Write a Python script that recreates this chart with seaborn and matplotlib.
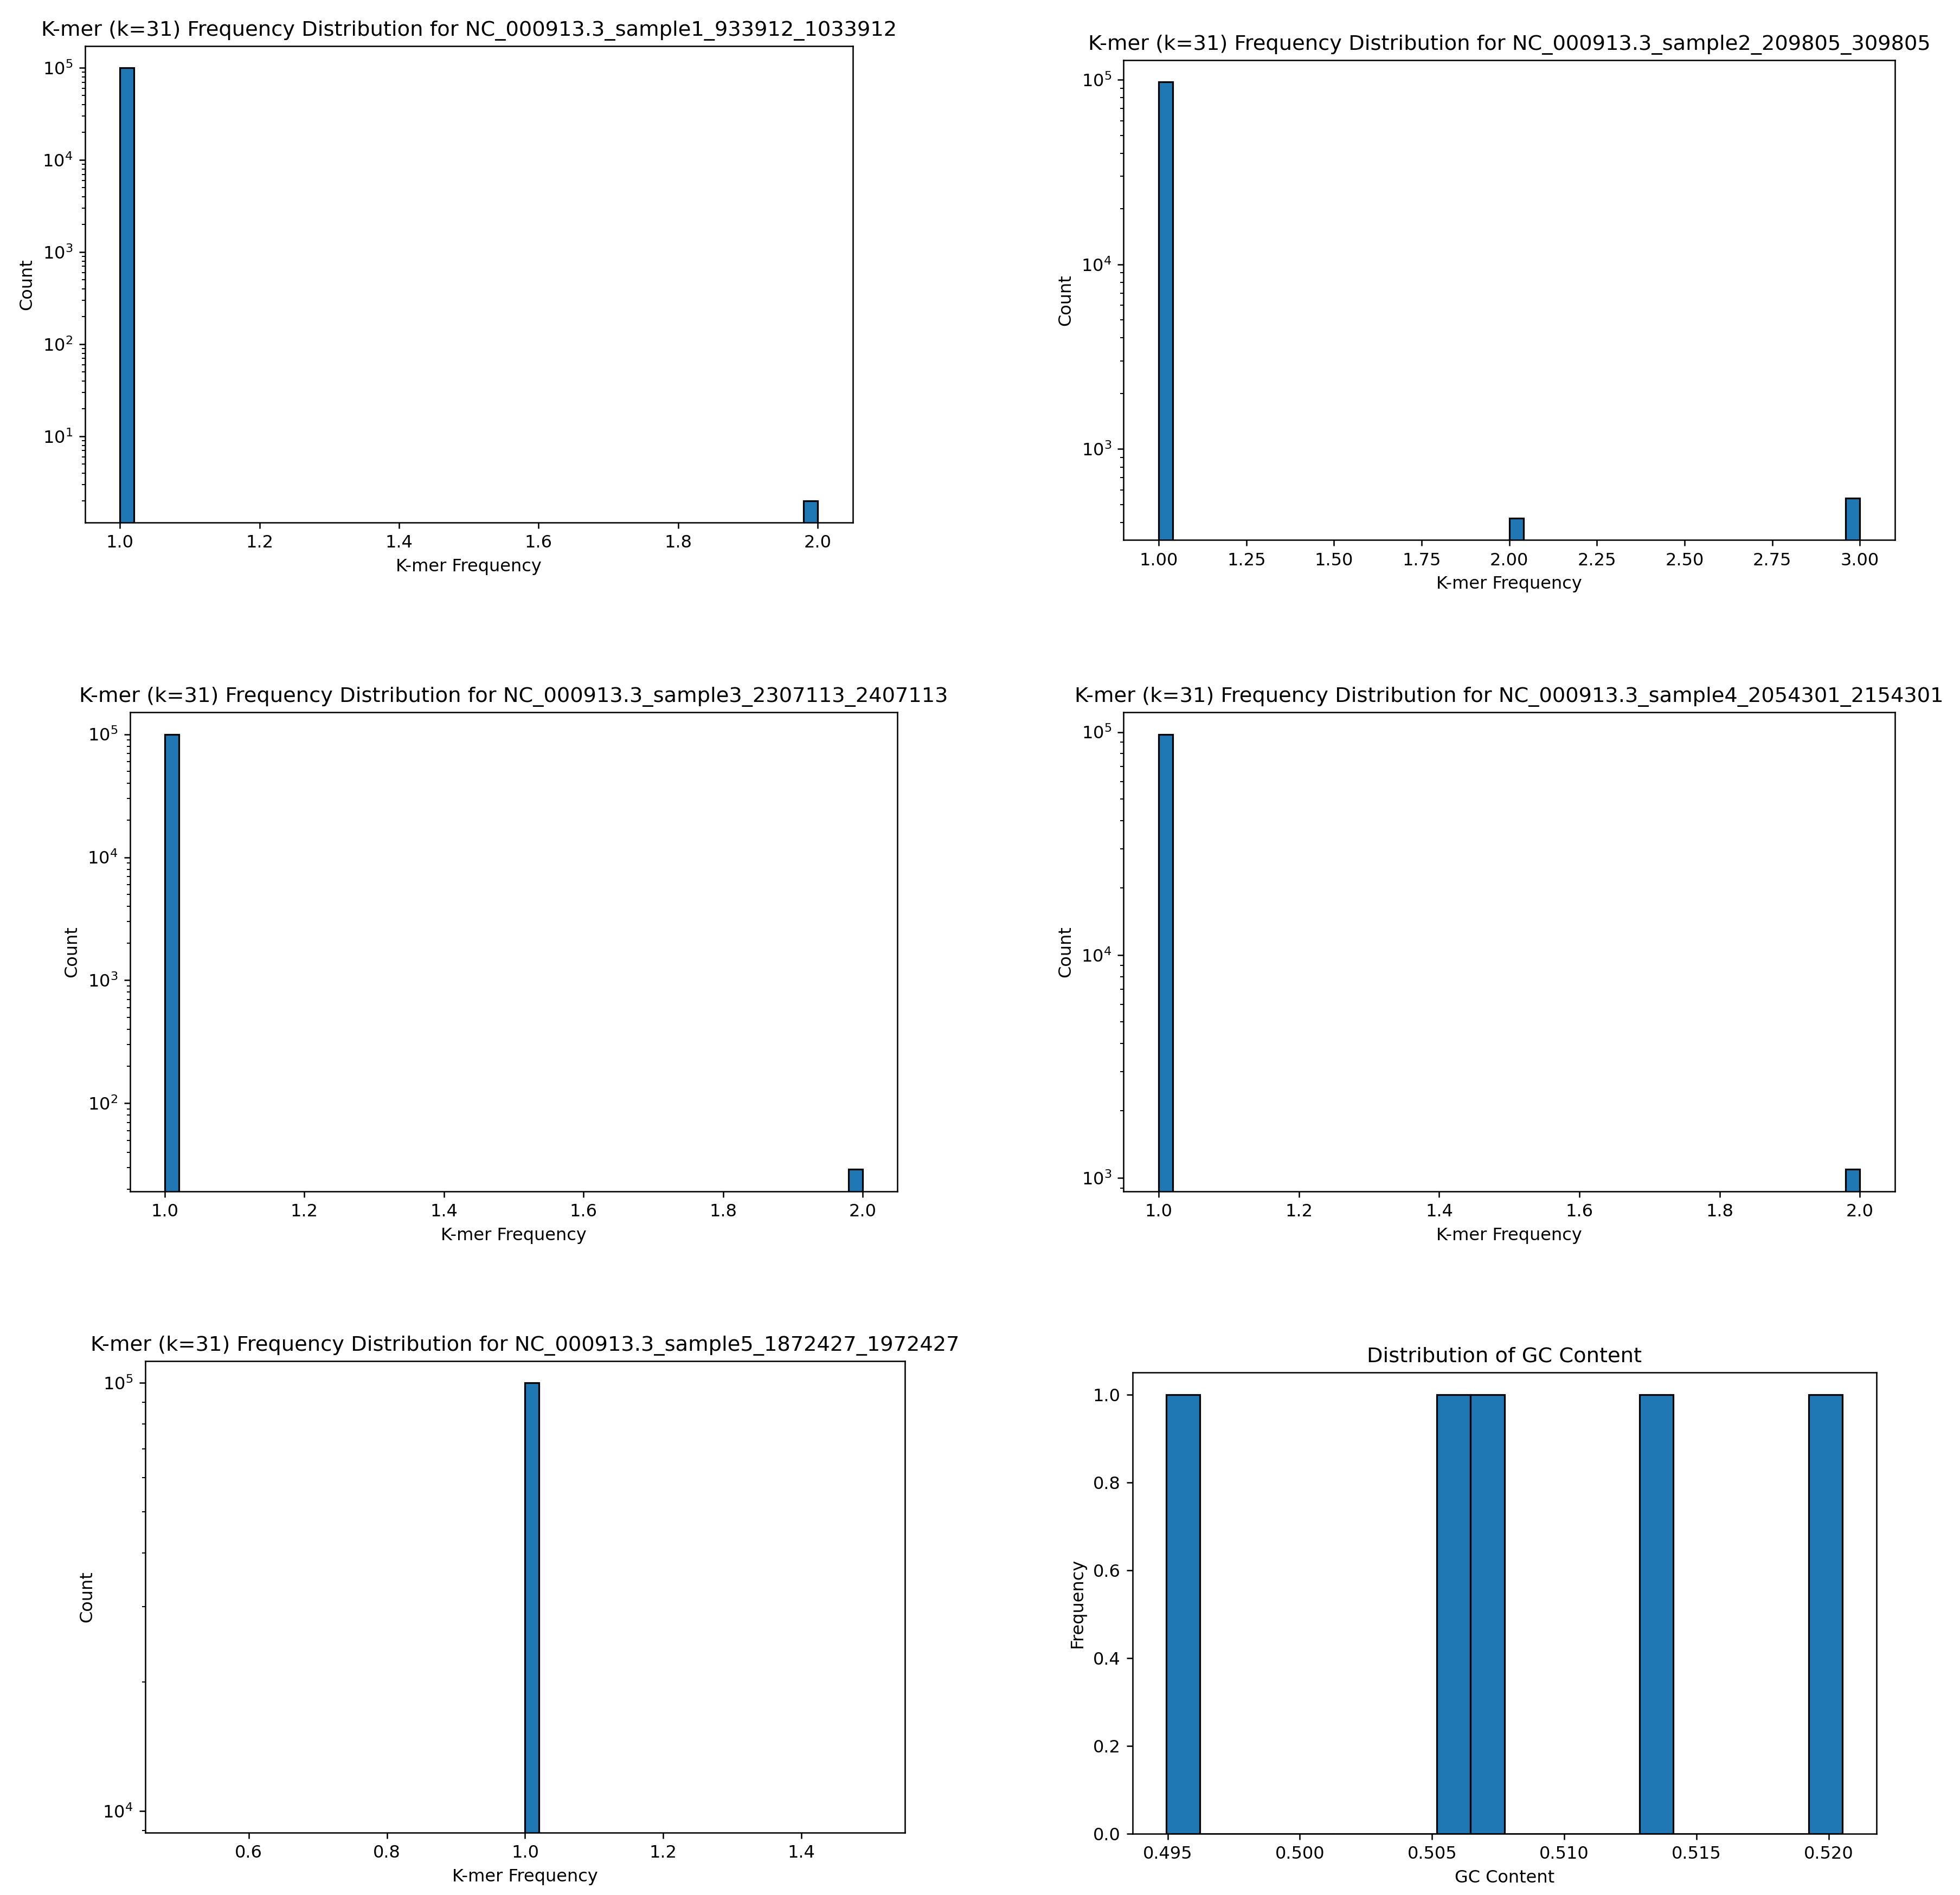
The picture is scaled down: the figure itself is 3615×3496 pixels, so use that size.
import numpy as np
import pandas as pd
import matplotlib
matplotlib.use("Agg")
import matplotlib.pyplot as plt
import seaborn as sns

# k-mer (k=31) frequency spectra: frequency value -> number of distinct k-mers
sample_names = [
    "NC_000913.3_sample1_933912_1033912",
    "NC_000913.3_sample2_209805_309805",
    "NC_000913.3_sample3_2307113_2407113",
    "NC_000913.3_sample4_2054301_2154301",
    "NC_000913.3_sample5_1872427_1972427",
]
s1_freq = [1, 2]
s1_count = [99966, 2]
s2_freq = [1, 2, 3]
s2_count = [97500, 422, 542]
s3_freq = [1, 2]
s3_count = [99912, 29]
s4_freq = [1, 2]
s4_count = [97790, 1090]
s5_freq = [1]
s5_count = [99970]

# GC content of each sample window
gc_content = [0.49495, 0.50590, 0.50705, 0.51350, 0.52052]

spectra = [
    (s1_freq, s1_count),
    (s2_freq, s2_count),
    (s3_freq, s3_count),
    (s4_freq, s4_count),
    (s5_freq, s5_count),
]

dpi = 230
fig = plt.figure(figsize=(3615 / dpi, 3496 / dpi), dpi=dpi)

# axes boxes [left, bottom, width, height] in figure fractions
boxes = [
    [0.0434, 0.7243, 0.3916, 0.2513],
    [0.5733, 0.7150, 0.3935, 0.2533],
    [0.0663, 0.3714, 0.3916, 0.2526],
    [0.5733, 0.3714, 0.3935, 0.2526],
    [0.0740, 0.0330, 0.3878, 0.2487],
    [0.5778, 0.0323, 0.3795, 0.2434],
]

for i, (name, (fr, cnt)) in enumerate(zip(sample_names, spectra)):
    ax = fig.add_axes(boxes[i])
    df = pd.DataFrame({"freq": fr, "count": cnt})
    sns.histplot(data=df, x="freq", weights="count", bins=50, ax=ax,
                 color="#1f77b4", alpha=1, edgecolor="black", linewidth=1)
    ax.set_yscale("log")
    ax.set_title(f"K-mer (k=31) Frequency Distribution for {name}")
    ax.set_xlabel("K-mer Frequency")
    ax.set_ylabel("Count")

ax = fig.add_axes(boxes[5])
sns.histplot(x=gc_content, bins=20, ax=ax, color="#1f77b4", alpha=1,
             edgecolor="black", linewidth=1)
ax.set_title("Distribution of GC Content")
ax.set_xlabel("GC Content")
ax.set_ylabel("Frequency")

fig.savefig("out.png", dpi=dpi)
